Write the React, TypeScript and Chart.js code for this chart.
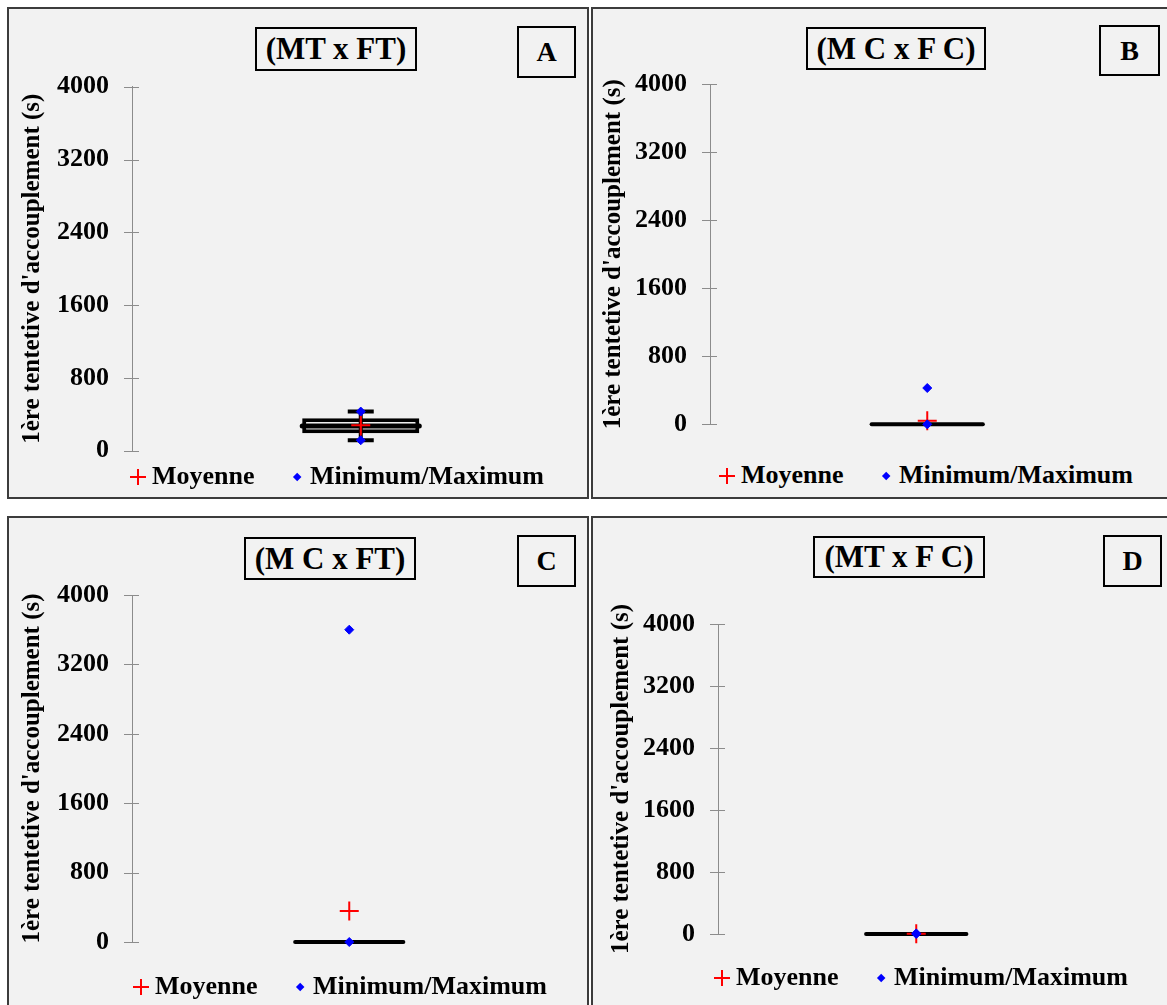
import React, { useEffect, useRef } from 'react';
import Chart from 'chart.js/auto';

// ---- data ----
const panelLetters = ['A', 'B', 'C', 'D'];
const panelTitles = ['(MT x FT)', '(M C x F C)', '(M C x FT)', '(MT x F C)'];
const yAxisTitle = "1ère tentetive d'accouplement (s)";
const yTicks = [0, 800, 1600, 2400, 3200, 4000];
const legendLabels = ['Moyenne', 'Minimum/Maximum'];
const minValues = [115, 0, 0, 0];
const maxValues = [430, 427, 3600, 8];
const q1Values = [192, 0, 0, 0];
const medianValues = [272, 0, 0, 0];
const q3Values = [357, 0, 0, 0];
const whiskerLowValues = [115, 0, 0, 0];
const whiskerHighValues = [430, 0, 0, 0];
const meanValues = [280, 42, 357, 4];

// ---- layout (page px) ----
const layouts = [
  {
    panel: { x: 7, y: 7, w: 582, h: 492 }, axisX: 132, top: 86.7, bottom: 450.7, right: 589, titleX: 33,
    titleBox: { x: 255, y: 27, w: 162, h: 44 }, letterBox: { x: 517, y: 26, w: 59, h: 52 },
    legend: { x: 130, y: 477 }, barPct: 0.256,
  },
  {
    panel: { x: 591, y: 7, w: 590, h: 492 }, axisX: 710, top: 84.3, bottom: 424.3, right: 1144, titleX: 614,
    titleBox: { x: 806, y: 27, w: 180, h: 43 }, letterBox: { x: 1099, y: 25, w: 61, h: 51 },
    legend: { x: 719, y: 476 }, barPct: 0.256,
  },
  {
    panel: { x: 7, y: 516, w: 582, h: 500 }, axisX: 132, top: 595, bottom: 942, right: 566, titleX: 33,
    titleBox: { x: 244, y: 537, w: 172, h: 43 }, letterBox: { x: 517, y: 535, w: 59, h: 52 },
    legend: { x: 133, y: 987 }, barPct: 0.249,
  },
  {
    panel: { x: 591, y: 516, w: 590, h: 500 }, axisX: 718, top: 624, bottom: 934, right: 1114, titleX: 622,
    titleBox: { x: 813, y: 536, w: 172, h: 42 }, letterBox: { x: 1103, y: 535, w: 59, h: 52 },
    legend: { x: 714, y: 978 }, barPct: 0.253,
  },
];

const FONT = '"Liberation Serif", "Times New Roman", serif';
const RIGHT_FIX = 12;

function PanelChart({ i }: { i: number }) {
  const ref = useRef<HTMLCanvasElement>(null);
  const L = layouts[i];
  const cLeft = L.panel.x + 2;
  const cTop = L.panel.y + 2;
  const cW = Math.round(L.right - cLeft + RIGHT_FIX);
  const cH = Math.ceil(L.bottom - cTop) + 30;
  const padTop = L.top - cTop;
  const padBottom = cH - (L.bottom - cTop);

  useEffect(() => {
    const canvas = ref.current;
    if (!canvas) return;
    const boxPlugin = {
      id: 'boxExtras',
      beforeDatasetsDraw(chart: any) {
        const ctx = chart.ctx;
        const ys = chart.scales.y;
        const ax = chart.chartArea.left;
        ctx.save();
        ctx.strokeStyle = '#8c8c8c';
        ctx.lineWidth = 1;
        yTicks.forEach((v) => {
          const y = Math.round(ys.getPixelForValue(v)) + 0.5;
          ctx.beginPath();
          ctx.moveTo(ax - 8, y);
          ctx.lineTo(ax + 7, y);
          ctx.stroke();
        });
        ctx.restore();
      },
      afterDatasetDraw(chart: any, args: any) {
        if (args.index !== 0) return;
        const el = args.meta.data[0];
        if (!el) return;
        const ctx = chart.ctx;
        const ys = chart.scales.y;
        const x = el.x;
        const w = el.width;
        ctx.save();
        const yLo = ys.getPixelForValue(whiskerLowValues[i]);
        const yHi = ys.getPixelForValue(whiskerHighValues[i]);
        const hasWhisker = yLo - yHi > 1;
        if (hasWhisker) {
          ctx.strokeStyle = '#000';
          ctx.lineWidth = 4;
          ctx.beginPath();
          ctx.moveTo(x, yHi);
          ctx.lineTo(x, yLo);
          ctx.moveTo(x - 13, yHi);
          ctx.lineTo(x + 13, yHi);
          ctx.moveTo(x - 13, yLo);
          ctx.lineTo(x + 13, yLo);
          ctx.stroke();
        }
        const yMed = ys.getPixelForValue(medianValues[i]);
        ctx.strokeStyle = '#000';
        ctx.lineWidth = hasWhisker ? 5 : 4;
        ctx.lineCap = 'round';
        ctx.beginPath();
        ctx.moveTo(x - w / 2, yMed);
        ctx.lineTo(x + w / 2, yMed);
        ctx.stroke();
        if (hasWhisker) {
          ctx.lineCap = 'butt';
          ctx.strokeStyle = '#ff0000';
          ctx.lineWidth = 1.5;
          ctx.beginPath();
          ctx.moveTo(x, yHi);
          ctx.lineTo(x, yLo);
          ctx.stroke();
        }
        ctx.restore();
      },
    };

    const chart = new Chart(canvas, {
      type: 'bar',
      data: {
        labels: ['box'],
        datasets: [
          {
            type: 'bar',
            label: 'box',
            data: [[q1Values[i], q3Values[i]]] as any,
            backgroundColor: '#ffffff',
            borderColor: '#000000',
            borderWidth: 4,
            borderSkipped: false,
            barPercentage: L.barPct,
            categoryPercentage: 1,
            order: 3,
            clip: false as any,
          },
          {
            type: 'line',
            label: legendLabels[0],
            data: [meanValues[i]],
            showLine: false,
            pointStyle: 'cross',
            pointRadius: 9.5,
            pointBorderColor: '#ff0000',
            pointBorderWidth: 2,
            borderColor: '#ff0000',
            order: 2,
            clip: false as any,
          },
          {
            type: 'line',
            label: legendLabels[1],
            data: [{ x: 'box', y: minValues[i] }, { x: 'box', y: maxValues[i] }] as any,
            showLine: false,
            pointStyle: 'rectRot',
            pointRadius: 4.5,
            pointBackgroundColor: '#0000ff',
            pointBorderColor: '#0000ff',
            pointBorderWidth: 1,
            borderColor: '#0000ff',
            order: 1,
            clip: false as any,
          },
        ],
      },
      options: {
        responsive: false,
        animation: false,
        events: [],
        layout: { padding: { left: 0, top: padTop, right: 0, bottom: padBottom } },
        plugins: { legend: { display: false }, tooltip: { enabled: false }, title: { display: false } },
        scales: {
          x: { display: false, offset: true },
          y: {
            min: 0,
            max: 4000,
            afterBuildTicks: (s: any) => {
              s.ticks = yTicks.map((v) => ({ value: v }));
            },
            afterFit: (s: any) => {
              s.width = L.axisX - cLeft;
              s.paddingTop = 0;
              s.paddingBottom = 0;
            },
            grid: { display: false, drawTicks: false },
            border: { display: true, color: '#8c8c8c', width: 1 },
            ticks: {
              color: '#000',
              font: { family: FONT, size: 26, weight: 'bold' },
              padding: 23,
              callback: (v: any) => String(v),
            },
            title: {
              display: true,
              text: yAxisTitle,
              color: '#000',
              font: { family: FONT, size: 25, weight: 'bold' },
              padding: { top: L.titleX - cLeft - 15, bottom: 0 },
            },
          },
        },
      } as any,
      plugins: [boxPlugin],
    });
    return () => chart.destroy();
  }, [i]);

  return (
    <canvas
      ref={ref}
      width={cW}
      height={cH}
      style={{ position: 'absolute', left: cLeft, top: cTop, width: cW, height: cH }}
    />
  );
}

function Legend({ i }: { i: number }) {
  const { x, y } = layouts[i].legend;
  const textStyle: React.CSSProperties = {
    position: 'absolute',
    top: y - 16,
    height: 32,
    lineHeight: '32px',
    font: `bold 26px ${FONT}`,
    color: '#000',
    whiteSpace: 'nowrap',
  };
  return (
    <>
      <div style={{ position: 'absolute', left: x, top: y - 0.75, width: 16, height: 1.5, background: '#ff0000' }} />
      <div style={{ position: 'absolute', left: x + 7.25, top: y - 8, width: 1.5, height: 16, background: '#ff0000' }} />
      <div style={{ ...textStyle, left: x + 22 }}>{legendLabels[0]}</div>
      <div
        style={{
          position: 'absolute',
          left: x + 167 - 3.2,
          top: y - 3.2,
          width: 6.4,
          height: 6.4,
          background: '#0000ff',
          transform: 'rotate(45deg)',
        }}
      />
      <div style={{ ...textStyle, left: x + 180 }}>{legendLabels[1]}</div>
    </>
  );
}

function Panel({ i }: { i: number }) {
  const L = layouts[i];
  const boxStyle = (b: { x: number; y: number; w: number; h: number }, size: number): React.CSSProperties => ({
    position: 'absolute',
    left: b.x,
    top: b.y,
    width: b.w,
    height: b.h,
    boxSizing: 'border-box',
    border: '2px solid #000',
    display: 'flex',
    alignItems: 'center',
    justifyContent: 'center',
    font: `bold ${size}px ${FONT}`,
    color: '#000',
    whiteSpace: 'nowrap',
    background: '#f2f2f2',
  });
  return (
    <>
      <div
        style={{
          position: 'absolute',
          left: L.panel.x,
          top: L.panel.y,
          width: L.panel.w,
          height: L.panel.h,
          boxSizing: 'border-box',
          border: '2px solid #3c3c3c',
          background: '#f2f2f2',
        }}
      />
      <PanelChart i={i} />
      <div style={boxStyle(L.titleBox, 31)}>{panelTitles[i]}</div>
      <div style={boxStyle(L.letterBox, 28)}>{panelLetters[i]}</div>
      <Legend i={i} />
    </>
  );
}

export default function App() {
  return (
    <div
      style={{
        position: 'absolute',
        left: 0,
        top: 0,
        width: 1167,
        height: 1005,
        overflow: 'hidden',
        background: '#ffffff',
      }}
    >
      {panelLetters.map((_, i) => (
        <Panel key={i} i={i} />
      ))}
    </div>
  );
}
